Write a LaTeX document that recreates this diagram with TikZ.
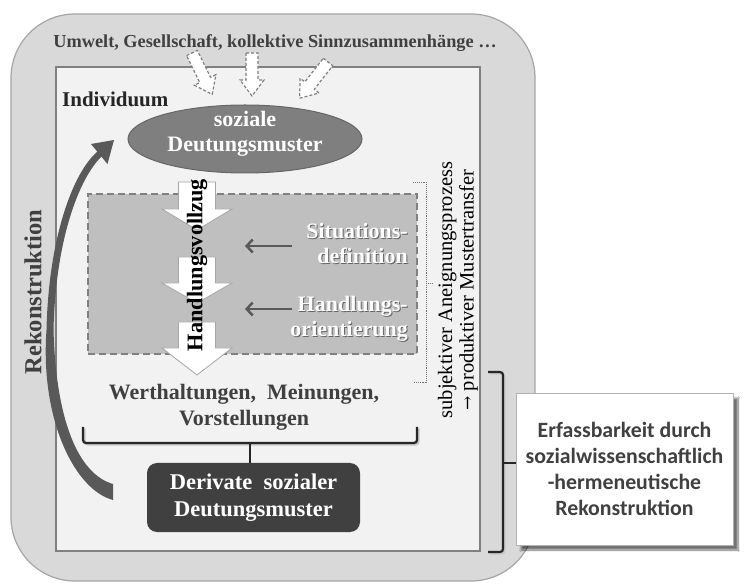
\documentclass[tikz,border=0pt]{standalone}
\usepackage{fontspec}
\setmainfont{Liberation Serif}
\newfontfamily\calib{Carlito}
\newfontfamily\arrfont{DejaVu Serif}
\usetikzlibrary{arrows.meta,shapes.geometric,shadows.blur,calc}
\definecolor{outerfill}{HTML}{D9D9D9}
\definecolor{outerline}{HTML}{A6A6A6}
\definecolor{innerfill}{HTML}{F2F2F2}
\definecolor{innerline}{HTML}{808080}
\definecolor{ellfill}{HTML}{7F7F7F}
\definecolor{procfill}{HTML}{BFBFBF}
\definecolor{darkbox}{HTML}{404040}
\definecolor{txtdark}{HTML}{404040}
\definecolor{arrgray}{HTML}{595959}
\definecolor{brk}{HTML}{262626}
\newcommand{\fs}[1]{\fontsize{#1}{#1}\selectfont}
\newcommand{\myblockarrow}[8]{%
  \begin{scope}[shift={(#1,#2)},rotate=#3]
    \draw[#8] (-#5/2,0) -- (#5/2,0) -- (#5/2,#4-#7) -- (#6/2,#4-#7) -- (0,#4)
      -- (-#6/2,#4-#7) -- (-#5/2,#4-#7) -- cycle;
  \end{scope}}
\tikzset{
  serifb/.style={font=\bfseries\fs{22}},
  whitetxt/.style={serifb, text=white, align=right, inner sep=0},
  bigarrow/.style={draw=outerline, fill=white, line width=0.8},
  smallarrow/.style={draw=innerline, fill=white, line width=1.2, dash pattern=on 3pt off 2pt},
  pointer/.style={arrgray, line width=2.5, -{Straight Barb[length=6pt,width=13pt,line width=2.5pt]}},
  bracket/.style={brk, line width=2.2, rounded corners=3},
  bracketsh/.style={black!22, line width=2.2, rounded corners=3},
}
\begin{document}
\begin{tikzpicture}[x=1pt,y=-1pt]
\useasboundingbox (0,0) rectangle (745,585);
\fill[white] (0,0) rectangle (745,585);

% outer rounded frame
\draw[fill=outerfill, draw=outerline, line width=1.2, rounded corners=64] (11,14) rectangle (535,581);

\node[font=\bfseries\fs{18.3}, text=txtdark, inner sep=0] (umwelt) at (275,43)
  {Umwelt, Gesellschaft, kollektive Sinnzusammenhänge …};

% inner frame
\node[draw=innerline, fill=innerfill, line width=2, minimum width=424, minimum height=483, inner sep=0] (ind) at (268,309) {};
\node[font=\bfseries\fs{21}, text=brk, anchor=west, inner sep=0] (indlabel) at (62,99) {Individuum};

% three dashed arrows from the top
\myblockarrow{192}{53}{26}{46}{12}{24}{16}{smallarrow}
\myblockarrow{252}{53}{0}{43}{12}{24}{16}{smallarrow}
\myblockarrow{328}{62}{-38}{46}{12}{24}{16}{smallarrow}

% ellipse
\node[ellipse, draw=innerline!80!black, fill=ellfill, line width=1, minimum width=234, minimum height=68, inner sep=0] (sdm) at (245,139) {};
\node[serifb, text=white, align=center, inner sep=0] (sdmtext) at (245,134) {soziale\\[3pt]Deutungsmuster};

% process area
\node[draw=innerline, fill=procfill, line width=2, dash pattern=on 7pt off 4pt, minimum width=329, minimum height=160, inner sep=0] (proc) at (252.5,274) {};

% white block arrows
\myblockarrow{197}{182}{0}{48}{37}{70}{21}{bigarrow}
\myblockarrow{197}{257}{0}{46}{37}{70}{20}{bigarrow}
\myblockarrow{197}{322}{0}{53}{37}{70}{27}{bigarrow}
\node[font=\bfseries\fs{22.3}, text=black, rotate=90, inner sep=0] (hv) at (197,265) {Handlungsvollzug};

% situation / orientation labels
\node[whitetxt, text=black!60, anchor=east] (sitsh) at (409,244.5) {Situations-\\[3pt]definition};
\node[whitetxt, anchor=east] (sit) at (408,243.5) {Situations-\\[3pt]definition};
\node[whitetxt, text=black!60, anchor=east] (hosh) at (409,319.5) {Handlungs-\\[3pt]orientierung};
\node[whitetxt, anchor=east] (ho) at (408,318.5) {Handlungs-\\[3pt]orientierung};
\coordinate (p1s) at (292,246); \coordinate (p1e) at (245,246);
\coordinate (p2s) at (292,309); \coordinate (p2e) at (245,309);
\draw[pointer] (p1s) -- (p1e);
\draw[pointer] (p2s) -- (p2e);

% Werthaltungen
\node[serifb, text=txtdark, align=center, inner sep=0] (wert) at (244,407)
  {Werthaltungen,\ \ Meinungen,\\[4pt]Vorstellungen};

% Derivate box
\node[rounded corners=10, fill=darkbox, minimum width=213, minimum height=69, text=white, font=\bfseries\fs{22.5}, align=center, inner sep=0] (der) at (253.5,497.5)
  {Derivate\ \ sozialer\\[4pt]Deutungsmuster};

% bracket under Werthaltungen
\coordinate (bl) at (83,427); \coordinate (br) at (417,427); \coordinate (bm) at (250,443);
\draw[bracketsh] (84.5,428.5) -- (84.5,444.5) -- (418.5,444.5) -- (418.5,428.5);
\draw[bracket] (bl) -- (83,443) -- (417,443) -- (br);
\draw[bracket, rounded corners=0] (bm) -- (bm |- der.north);

% Rekonstruktion
\node[font=\bfseries\fs{24.5}, text=txtdark, rotate=90, inner sep=0] (rek) at (33,292) {Rekonstruktion};
\coordinate (rs) at (113,492); \coordinate (re) at (114,140);
\fill[arrgray] (113,500) .. controls (75,490) and (40,420) .. (46.5,330)
  .. controls (48.5,240) and (72,173) .. (98,151)
  -- (102,156) .. controls (79,178) and (55.5,240) .. (53.5,330)
  .. controls (56,420) and (78,474) .. (113,484) -- cycle;
\fill[arrgray] (re) -- (91,144) -- (107.5,164) -- cycle;

% dotted bracket and rotated text
\draw[black!55, line width=0.9, densely dotted] (413,182) -- (426,182) -- (426,382) -- (413,382);
\draw[black!55, line width=0.9, densely dotted] (426,283) -- (433,283);
\node[font=\fs{20.5}, text=black, rotate=90, align=center, inner sep=0] (aneig) at (458,290)
  {subjektiver Aneignungsprozess\\[1pt]{\arrfont\fontsize{17}{17}\selectfont →} produktiver Mustertransfer};

% right box
\node[draw=black!30, fill=white, line width=0.8, minimum width=217, minimum height=152, inner sep=0,
  blur shadow={shadow xshift=5pt, shadow yshift=-5pt, shadow blur steps=8, shadow opacity=55},
  font=\calib\bfseries\fs{21.8}, text=txtdark, align=center] (erf) at (624.5,469)
  {Erfassbarkeit durch\\[4pt]sozialwissenschaftlich\\[4pt]-hermeneutische\\[4pt]Rekonstruktion};

% right bracket
\coordinate (rt) at (488,372); \coordinate (rb) at (488,552); \coordinate (rm) at (503,463);
\draw[bracketsh] (489.5,373.5) -- (504.5,373.5) -- (504.5,553.5) -- (489.5,553.5);
\draw[bracket] (rt) -- (503,372) -- (503,552) -- (rb);
\draw[bracket, rounded corners=0] (rm) -- (erf.west |- rm);
\end{tikzpicture}
\end{document}
